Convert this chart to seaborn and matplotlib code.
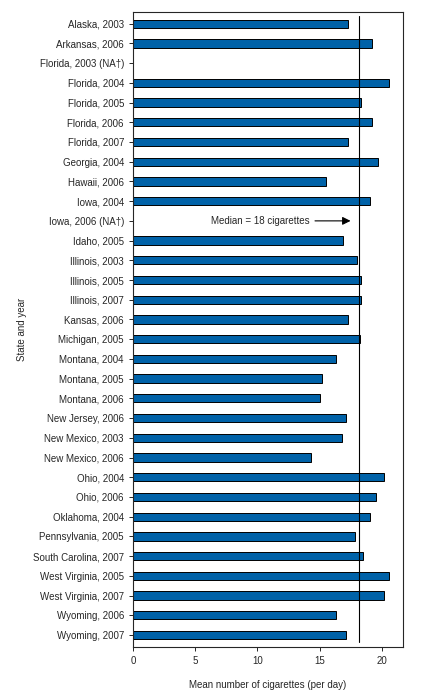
import matplotlib as mpl
import matplotlib.pyplot as plt
import seaborn as sns
import pandas as pd
import numpy as np

mpl.use('Agg')

labels = ['Alaska, 2003', 'Arkansas, 2006', 'Florida, 2003 (NA\u2020)', 'Florida, 2004', 'Florida, 2005',
          'Florida, 2006', 'Florida, 2007', 'Georgia, 2004', 'Hawaii, 2006', 'Iowa, 2004',
          'Iowa, 2006 (NA\u2020)', 'Idaho, 2005', 'Illinois, 2003', 'Illinois, 2005', 'Illinois, 2007',
          'Kansas, 2006', 'Michigan, 2005', 'Montana, 2004', 'Montana, 2005', 'Montana, 2006',
          'New Jersey, 2006', 'New Mexico, 2003', 'New Mexico, 2006', 'Ohio, 2004', 'Ohio, 2006',
          'Oklahoma, 2004', 'Pennsylvania, 2005', 'South Carolina, 2007', 'West Virginia, 2005',
          'West Virginia, 2007', 'Wyoming, 2006', 'Wyoming, 2007']
values = [17.3, 19.2, np.nan, 20.6, 18.3, 19.2, 17.3, 19.7, 15.5, 19.0,
          np.nan, 16.9, 18.0, 18.3, 18.3, 17.3, 18.2, 16.3, 15.2, 15.0,
          17.1, 16.8, 14.3, 20.2, 19.5, 19.0, 17.8, 18.5, 20.6, 20.2, 16.3, 17.1]
median = 18.15

df = pd.DataFrame({'label': labels, 'value': values})

sns.set_theme(style='ticks', rc={'axes.linewidth': 0.8, 'xtick.labelsize': 7, 'ytick.labelsize': 7})
plt.rcParams['font.family'] = ['Liberation Sans', 'DejaVu Sans']

fig = plt.figure(figsize=(4.33, 6.97), dpi=100)
ax = fig.add_axes([0.307, 0.072, 0.624, 0.911])
sns.barplot(data=df, x='value', y='label', orient='h', color='#0062a8', saturation=1,
            edgecolor='black', linewidth=0.7, width=0.42, ax=ax)

ax.axvline(median, ymin=0.007, ymax=0.993, color='black', lw=0.8)
ax.annotate('', xy=(17.7, 10), xytext=(14.4, 10),
            arrowprops=dict(arrowstyle='-|>', color='black', lw=0.8, mutation_scale=12))
ax.text(14.2, 10, 'Median = 18 cigarettes', ha='right', va='center', fontsize=7)

ax.set_xlim(0, 21.7)
ax.set_ylim(len(labels) - 0.4, -0.6)
ax.set_xticks([0, 5, 10, 15, 20])
ax.set_xlabel('Mean number of cigarettes (per day)', fontsize=7, labelpad=10)
ax.set_ylabel('State and year', fontsize=7)
ax.tick_params(length=3, width=0.7)

plt.savefig('out.png', dpi=100)
plt.close()
